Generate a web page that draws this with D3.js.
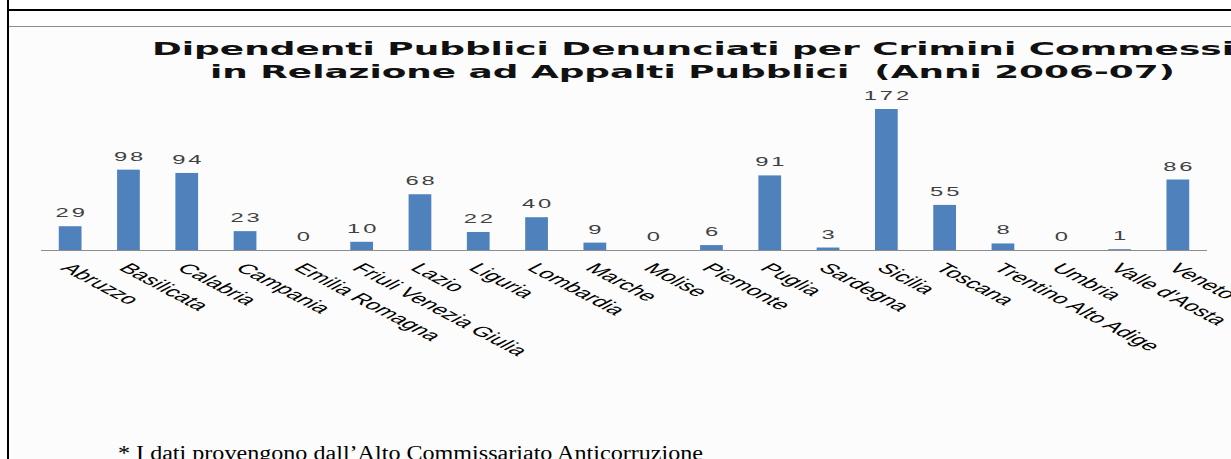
<!DOCTYPE html>
<html>
<head>
<meta charset="utf-8">
<script src="https://cdn.jsdelivr.net/npm/d3@7"></script>
<style>
  html, body { margin: 0; padding: 0; background: #fff; overflow: hidden; }
  text { white-space: pre; }
</style>
</head>
<body>
<div id="mychart"></div>
<script>
const titleLines = [
    "Dipendenti Pubblici Denunciati per Crimini Commessi",
    "in Relazione ad Appalti Pubblici  (Anni 2006-07)"
];
const regions = ["Abruzzo", "Basilicata", "Calabria", "Campania", "Emilia Romagna",
    "Friuli Venezia Giulia", "Lazio", "Liguria", "Lombardia", "Marche", "Molise",
    "Piemonte", "Puglia", "Sardegna", "Sicilia", "Toscana", "Trentino Alto Adige",
    "Umbria", "Valle d'Aosta", "Veneto"];
const denunciati = [29, 98, 94, 23, 0, 10, 68, 22, 40, 9, 0, 6, 91, 3, 172, 55, 8, 0, 1, 86];
const footnote = "* I dati provengono dall\u2019Alto Commissariato Anticorruzione";

const width = 1231;
const height = 459;
const sx = 1.9; // the picture is stretched sideways

const svg = d3.select("#mychart")
    .append("svg")
    .attr("width", width)
    .attr("height", height)
    .attr("viewBox", [0, 0, width, height]);

// page frame
svg.append("rect")
    .attr("x", 10).attr("y", 27)
    .attr("width", width - 10).attr("height", height - 27)
    .attr("fill", "#fcfcfc");
svg.append("line")
    .attr("x1", 8).attr("x2", 8).attr("y1", 0).attr("y2", height)
    .attr("stroke", "#000").attr("stroke-width", 2);
svg.append("line")
    .attr("x1", 8).attr("x2", width).attr("y1", 10).attr("y2", 10)
    .attr("stroke", "#000").attr("stroke-width", 2);
svg.append("line")
    .attr("x1", 9).attr("x2", width).attr("y1", 26.5).attr("y2", 26.5)
    .attr("stroke", "#8c8c8c").attr("stroke-width", 1);

// title
const titleX = [152, 210];
const titleLen = [1082, 965];
svg.append("g")
    .attr("font-family", "'DejaVu Sans', Verdana, sans-serif")
    .attr("font-weight", "bold")
    .attr("font-size", 17)
    .attr("fill", "#111")
    .selectAll("text")
    .data(titleLines)
    .join("text")
    .attr("x", (d, i) => titleX[i])
    .attr("y", (d, i) => 55 + i * 23)
    .attr("textLength", (d, i) => titleLen[i])
    .attr("lengthAdjust", "spacingAndGlyphs")
    .text(d => d);

const x = d3.scaleBand()
    .domain(regions)
    .range([41, 1207])
    .paddingInner(0.61)
    .paddingOuter(0.305);

const y = d3.scaleLinear()
    .domain([0, d3.max(denunciati)])
    .range([250, 109]);

const data = regions.map((r, i) => ({ region: r, value: denunciati[i] }));

svg.append("g")
    .attr("fill", "#4f81bd")
    .selectAll("rect")
    .data(data)
    .join("rect")
    .attr("x", d => x(d.region))
    .attr("width", x.bandwidth())
    .attr("y", d => y(d.value))
    .attr("height", d => y(0) - y(d.value));

svg.append("line")
    .attr("x1", x.range()[0]).attr("x2", x.range()[1])
    .attr("y1", y(0) + 0.5).attr("y2", y(0) + 0.5)
    .attr("stroke", "#8c8c8c").attr("stroke-width", 1);

// value labels
svg.append("g")
    .attr("font-family", "'Liberation Sans', Arial, sans-serif")
    .attr("font-size", 12.5)
    .attr("fill", "#404040")
    .selectAll("text")
    .data(data)
    .join("text")
    .attr("transform", d => `translate(${x(d.region) + x.bandwidth() / 2 + 1.5},${y(d.value) - 9}) scale(${sx},1)`)
    .attr("text-anchor", "middle")
    .attr("letter-spacing", 1.5)
    .text(d => d.value);

// category labels, tilted
svg.append("g")
    .attr("font-family", "'Liberation Sans', Arial, sans-serif")
    .attr("font-size", 14)
    .attr("fill", "#000")
    .selectAll("text")
    .data(regions)
    .join("text")
    .attr("transform", d => `translate(${x(d) + x.bandwidth() / 2 - 5},${y(0) + 16}) scale(${sx},1) rotate(45)`)
    .attr("dy", "0.3em")
    .text(d => d);

// footnote
svg.append("text")
    .attr("x", 118)
    .attr("y", 460)
    .attr("font-family", "'Liberation Serif', 'Times New Roman', serif")
    .attr("font-size", 20)
    .attr("fill", "#000")
    .attr("textLength", 585)
    .attr("lengthAdjust", "spacingAndGlyphs")
    .text(footnote);
</script>
</body>
</html>
